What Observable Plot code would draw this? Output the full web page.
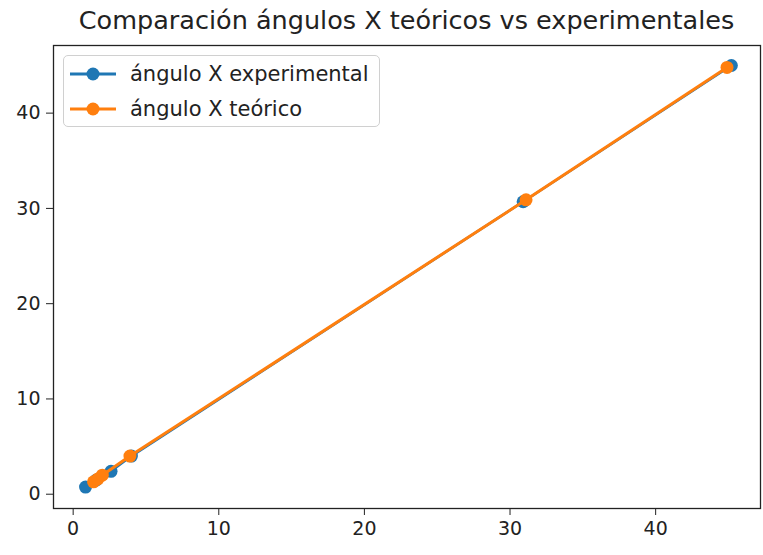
<!DOCTYPE html>
<html>
<head>
<meta charset="utf-8">
<script src="https://cdn.jsdelivr.net/npm/d3@7"></script>
<script src="https://cdn.jsdelivr.net/npm/@observablehq/plot@0.6"></script>
<style>
  html, body { margin: 0; padding: 0; background: #fff; }
  #wrap { position: relative; width: 763px; height: 555px; font-family: "DejaVu Sans", sans-serif; }
  #title { position: absolute; left: 53px; width: 707px; top: 5px; text-align: center; font-size: 25.5px; color: #222; white-space: nowrap; }
  #chart { position: absolute; left: 0; top: 40px; }
  #legend { position: absolute; left: 63px; top: 55px; width: 317px; height: 72px; border: 1px solid #d0d0d0; border-radius: 5px; background: rgba(255,255,255,0.8); box-sizing: border-box; }
  .row { position: absolute; left: 0; height: 24px; display: flex; align-items: center; font-size: 21px; color: #222; white-space: nowrap; }
  .row svg { margin-left: 6px; margin-right: 14px; }
</style>
</head>
<body>
<div id="wrap">
  <div id="title"></div>
  <div id="chart"></div>
  <div id="legend"></div>
</div>
<script>
const titleText = "Comparación ángulos X teóricos vs experimentales";
const seriesNames = ["ángulo X experimental", "ángulo X teórico"];
const colors = ["#1f77b4", "#ff7f0e"];
const expX = [0.85, 1.6, 2.6, 4.0, 30.9, 45.2];
const expY = [0.75, 1.5, 2.4, 4.0, 30.7, 45.0];
const teoX = [1.4, 1.7, 2.0, 3.9, 31.1, 44.9];
const teoY = [1.3, 1.6, 2.0, 4.0, 30.9, 44.8];
const xTicks = [0, 10, 20, 30, 40];
const yTicks = [0, 10, 20, 30, 40];

const exp = expX.map((x, i) => ({x, y: expY[i]}));
const teo = teoX.map((x, i) => ({x, y: teoY[i]}));

document.getElementById("title").textContent = titleText;

const chart = Plot.plot({
  width: 763,
  height: 515,
  marginLeft: 53,
  marginRight: 3,
  marginTop: 5,
  marginBottom: 47,
  style: { fontFamily: "DejaVu Sans, sans-serif", fontSize: "19px", color: "#222", background: "transparent", overflow: "visible" },
  x: { domain: [-1.35, 47.2], ticks: xTicks, tickSize: 7, tickPadding: 6, label: null },
  y: { domain: [-1.5, 47.1], ticks: yTicks, tickSize: 7, tickPadding: 6, label: null },
  marks: [
    Plot.frame({ stroke: "#222", strokeWidth: 1.3 }),
    Plot.line(exp, { x: "x", y: "y", stroke: colors[0], strokeWidth: 2.5 }),
    Plot.dot(exp, { x: "x", y: "y", r: 6.5, fill: colors[0] }),
    Plot.line(teo, { x: "x", y: "y", stroke: colors[1], strokeWidth: 3 }),
    Plot.dot(teo, { x: "x", y: "y", r: 6.5, fill: colors[1] })
  ]
});
document.getElementById("chart").appendChild(chart);

const legend = document.getElementById("legend");
seriesNames.forEach((name, i) => {
  const row = document.createElement("div");
  row.className = "row";
  row.style.top = (6 + i * 35) + "px";
  row.innerHTML = `<svg width="46" height="16"><line x1="0" y1="8" x2="46" y2="8" stroke="${colors[i]}" stroke-width="2.8"/><circle cx="23" cy="8" r="6.5" fill="${colors[i]}"/></svg><span></span>`;
  row.querySelector("span").textContent = name;
  legend.appendChild(row);
});
</script>
</body>
</html>
